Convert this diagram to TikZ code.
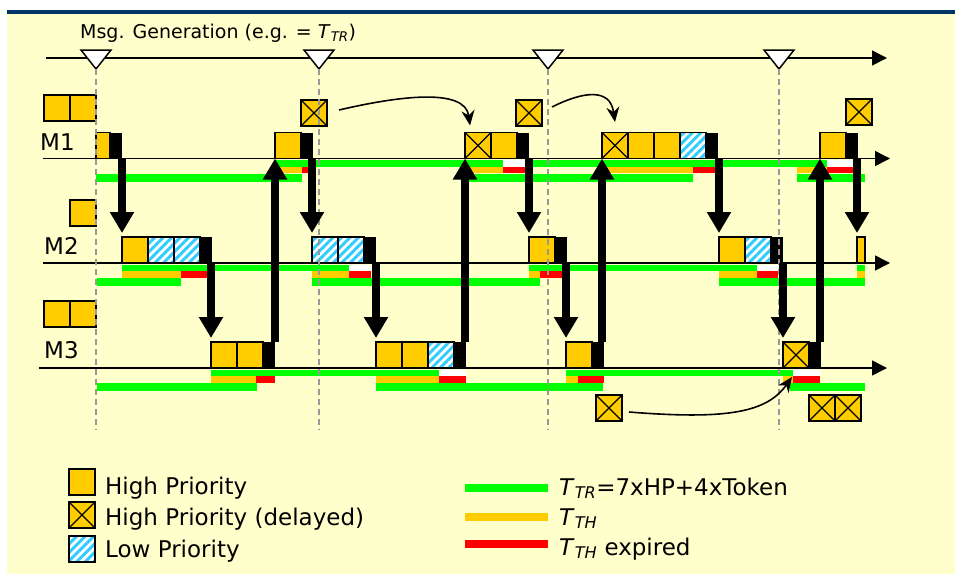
\documentclass[tikz,border=0pt]{standalone}
\usepackage{fontspec}
\setmainfont{DejaVu Sans}
\usetikzlibrary{arrows.meta,patterns.meta}

\definecolor{bgyellow}{HTML}{FFFFCC}
\definecolor{navy}{HTML}{003366}
\definecolor{prioyellow}{HTML}{FFCC00}
\definecolor{hatchblue}{HTML}{33CCFF}
\definecolor{trgreen}{HTML}{00FF00}
\definecolor{threxp}{HTML}{FF0000}
\definecolor{guidegray}{HTML}{999999}

\begin{document}
\begin{tikzpicture}[x=1pt,y=-1pt,
    pkt/.style={draw=black,line width=1.3pt,minimum width=26pt,minimum height=26pt,inner sep=0pt,outer sep=0pt,anchor=south west},
    hp/.style={pkt,fill=prioyellow},
    dl/.style={pkt,fill=prioyellow,path picture={\draw[line width=1.3pt] (path picture bounding box.north west) -- (path picture bounding box.south east) (path picture bounding box.south west) -- (path picture bounding box.north east);}},
    lp/.style={pkt,preaction={fill=white},pattern={Lines[angle=45,distance=6pt,line width=3pt]},pattern color=hatchblue},
    tok/.style={fill=black,minimum width=12pt,minimum height=26pt,inner sep=0pt,outer sep=0pt,anchor=south west},
    tokpass/.style={line width=8pt,-{Triangle[length=21pt,width=23pt]}},
    timeaxis/.style={line width=1.5pt,-{Triangle[length=15pt,width=15pt]}},
    curv/.style={line width=1.6pt,-{Stealth[length=15pt,width=13pt]}},
    guide/.style={guidegray,line width=1.5pt,dash pattern=on 6pt off 4pt},
    lbl/.style={anchor=base west,inner sep=0pt,font=\fontsize{23}{26}\selectfont}]
    \useasboundingbox (0,0) rectangle (955,579);
    \fill[white] (0,0) rectangle (955,579);
    \fill[navy] (7,10) rectangle (955,14);
    \fill[bgyellow] (7,14) rectangle (955,574);

    % Timer bars below M1.
    \fill[trgreen] (275,160) rectangle (503,166.5);
    \fill[white] (503,160) rectangle (525,166.5);
    \fill[trgreen] (525,160) rectangle (827,166.5);
    \fill[white] (827,160) rectangle (853,166.5);
    \fill[prioyellow] (275,166.5) rectangle (302,173);
    \fill[threxp] (302,166.5) rectangle (308,173);
    \fill[prioyellow] (465,166.5) rectangle (503,173);
    \fill[threxp] (503,166.5) rectangle (525,173);
    \fill[prioyellow] (602,166.5) rectangle (693,173);
    \fill[threxp] (693,166.5) rectangle (716,173);
    \fill[prioyellow] (797,166.5) rectangle (827,173);
    \fill[threxp] (827,166.5) rectangle (853,173);
    \fill[trgreen] (96,173.5) rectangle (302,181.5);
    \fill[trgreen] (465,173.5) rectangle (693,181.5);
    \fill[trgreen] (797,173.5) rectangle (865,181.5);

    % Timer bars below M2.
    \fill[trgreen] (122,264.5) rectangle (349,271);
    \fill[white] (349,264.5) rectangle (371,271);
    \fill[trgreen] (529,264.5) rectangle (757,271);
    \fill[white] (757,264.5) rectangle (778,271);
    \fill[trgreen] (857,264.5) rectangle (865,271);
    \fill[prioyellow] (122,271) rectangle (181,277.5);
    \fill[threxp] (181,271) rectangle (207,277.5);
    \fill[prioyellow] (312,271) rectangle (349,277.5);
    \fill[threxp] (349,271) rectangle (371,277.5);
    \fill[prioyellow] (529,271) rectangle (540,277.5);
    \fill[threxp] (540,271) rectangle (562,277.5);
    \fill[prioyellow] (719,271) rectangle (757,277.5);
    \fill[threxp] (757,271) rectangle (778,277.5);
    \fill[prioyellow] (857,271) rectangle (865,277.5);
    \fill[trgreen] (97,278) rectangle (181,286);
    \fill[trgreen] (312,278) rectangle (540,286);
    \fill[trgreen] (719,278) rectangle (865,286);

    % Timer bars below M3.
    \fill[trgreen] (211,369.5) rectangle (439,376);
    \fill[white] (439,369.5) rectangle (466,376);
    \fill[trgreen] (566,369.5) rectangle (793,376);
    \fill[white] (793,369.5) rectangle (820,376);
    \fill[prioyellow] (211,376) rectangle (256,382.5);
    \fill[threxp] (256,376) rectangle (275,382.5);
    \fill[prioyellow] (376,376) rectangle (439,382.5);
    \fill[threxp] (439,376) rectangle (466,382.5);
    \fill[prioyellow] (566,376) rectangle (578,382.5);
    \fill[threxp] (578,376) rectangle (604,382.5);
    \fill[prioyellow] (783,376) rectangle (793,382.5);
    \fill[threxp] (793,376) rectangle (820,382.5);
    \fill[trgreen] (97,383) rectangle (257,391);
    \fill[trgreen] (376,383) rectangle (603,391);
    \fill[trgreen] (790,383) rectangle (865,391);

    % Time axes.
    \draw[timeaxis] (46,58) -- (887,58);
    \draw[timeaxis] (43,158.5) -- (890,158.5);
    \draw[timeaxis] (43,263) -- (890,263);
    \draw[timeaxis] (39,368) -- (887,368);
    \node[lbl,font=\fontsize{19}{22}\selectfont] (msglbl) at (80,38) {Msg. Generation (e.g. = \textit{T}\textsubscript{\textit{TR}})};
    \node[lbl] (m1lbl) at (40,150) {M1};
    \node[lbl] (m2lbl) at (44,254) {M2};
    \node[lbl] (m3lbl) at (44,358) {M3};
    \foreach \gx in {96,319,548,779}
      \draw[fill=white,line width=1.5pt] (\gx-15,50) -- (\gx+15,50) -- (\gx,69) -- cycle;

    % Initial queues.
    \node[hp] (q1a) at (44,121) {};
    \node[hp] (q1b) at (q1a.south east) {};
    \node[hp] (q2a) at (70,226) {};
    \node[hp] (q3a) at (44,327) {};
    \node[hp] (q3b) at (q3a.south east) {};

    % Frames sent on M1.
    \node[hp,minimum width=14pt] (m1a1) at (96,158.5) {};
    \node[tok] (m1at) at (m1a1.south east) {};
    \node[hp] (m1b1) at (275,158.5) {};
    \node[tok] (m1bt) at (m1b1.south east) {};
    \node[dl] (m1c1) at (465,158.5) {};
    \node[hp] (m1c2) at (m1c1.south east) {};
    \node[tok] (m1ct) at (m1c2.south east) {};
    \node[dl] (m1d1) at (602,158.5) {};
    \node[hp] (m1d2) at (m1d1.south east) {};
    \node[hp] (m1d3) at (m1d2.south east) {};
    \node[lp] (m1d4) at (m1d3.south east) {};
    \node[tok] (m1dt) at (m1d4.south east) {};
    \node[hp] (m1e1) at (820,158.5) {};
    \node[tok] (m1et) at (m1e1.south east) {};
    \node[dl] (m1x1) at (301,126) {};
    \node[dl] (m1x2) at (516,126) {};
    \node[dl] (m1x3) at (846,125) {};

    % Frames sent on M2.
    \node[hp] (m2a1) at (122,263) {};
    \node[lp] (m2a2) at (m2a1.south east) {};
    \node[lp] (m2a3) at (m2a2.south east) {};
    \node[tok] (m2at) at (m2a3.south east) {};
    \node[lp] (m2b1) at (312,263) {};
    \node[lp] (m2b2) at (m2b1.south east) {};
    \node[tok] (m2bt) at (m2b2.south east) {};
    \node[hp] (m2c1) at (529,263) {};
    \node[tok] (m2ct) at (m2c1.south east) {};
    \node[hp] (m2d1) at (719,263) {};
    \node[lp] (m2d2) at (m2d1.south east) {};
    \node[tok] (m2dt) at (m2d2.south east) {};
    \node[hp,minimum width=8pt] (m2e1) at (857,263) {};

    % Frames sent on M3.
    \node[hp] (m3a1) at (211,368) {};
    \node[hp] (m3a2) at (m3a1.south east) {};
    \node[tok] (m3at) at (m3a2.south east) {};
    \node[hp] (m3b1) at (376,368) {};
    \node[hp] (m3b2) at (m3b1.south east) {};
    \node[lp] (m3b3) at (m3b2.south east) {};
    \node[tok] (m3bt) at (m3b3.south east) {};
    \node[hp] (m3c1) at (566,368) {};
    \node[tok] (m3ct) at (m3c1.south east) {};
    \node[dl] (m3d1) at (783,368) {};
    \node[tok] (m3dt) at (m3d1.south east) {};
    \node[dl] (m3x1) at (596,421) {};
    \node[dl] (m3x2) at (809,421) {};
    \node[dl] (m3x3) at (m3x2.south east) {};

    % Generation instants.
    \foreach \gx in {96,319,548,779}
      \draw[guide] (\gx,69) -- (\gx,430);

    % Token passing M1 -> M2 -> M3 -> M1.
    \draw[tokpass,shorten >=4pt] (m2a1.north west |- m1at.south) -- (m2a1.north west);
    \draw[tokpass,shorten >=4pt] (m2b1.north west |- m1bt.south) -- (m2b1.north west);
    \draw[tokpass,shorten >=4pt] (m2c1.north west |- m1ct.south) -- (m2c1.north west);
    \draw[tokpass,shorten >=4pt] (m2d1.north west |- m1dt.south) -- (m2d1.north west);
    \draw[tokpass,shorten >=4pt] (m2e1.north west |- m1et.south) -- (m2e1.north west);
    \draw[tokpass,shorten >=4pt] (m3a1.north west |- m2at.south) -- (m3a1.north west);
    \draw[tokpass,shorten >=4pt] (m3b1.north west |- m2bt.south) -- (m3b1.north west);
    \draw[tokpass,shorten >=4pt] (m3c1.north west |- m2ct.south) -- (m3c1.north west);
    \draw[tokpass,shorten >=4pt] (m3d1.north west |- m2dt.south) -- (m3d1.north west);
    \draw[tokpass] (m1b1.south west |- m3at.north) -- (m1b1.south west);
    \draw[tokpass] (m1c1.south west |- m3bt.north) -- (m1c1.south west);
    \draw[tokpass] (m1d1.south west |- m3ct.north) -- (m1d1.south west);
    \draw[tokpass] (m1e1.south west |- m3dt.north) -- (m1e1.south west);

    % Delayed frames.
    \draw[curv] ([shift={(12,-3)}]m1x1.east) .. controls +(60,-14) and +(-5,-38) .. ([shift={(5,-7)}]m1c1.north west);
    \draw[curv] ([shift={(10,-6)}]m1x2.east) .. controls +(30,-15) and +(-5,-35) .. ([shift={(13,-10.5)}]m1d1.north west);
    \draw[curv] ([shift={(7,4)}]m3x1.east) .. controls +(100,8) and +(-25,35) .. ([shift={(9,9)}]m3d1.south west);

    % Legend.
    \node[hp] (lghp) at (69,495) {};
    \node[dl] (lgdl) at (69,528) {};
    \node[lp] (lglp) at (69,562) {};
    \node[lbl] (lghptxt) at (105,494) {High Priority};
    \node[lbl] (lgdltxt) at (105,525) {High Priority (delayed)};
    \node[lbl] (lglptxt) at (105,557) {Low Priority};
    \fill[trgreen] (465,484) rectangle (548,492);
    \fill[prioyellow] (465,513) rectangle (548,521);
    \fill[threxp] (465,540) rectangle (548,547.5);
    \node[lbl] (lgtrtxt) at (559,495) {\textit{T}\textsubscript{\textit{TR}}=7xHP+4xToken};
    \node[lbl] (lgthtxt) at (559,525) {\textit{T}\textsubscript{\textit{TH}}};
    \node[lbl] (lgextxt) at (559,555) {\textit{T}\textsubscript{\textit{TH}} expired};
\end{tikzpicture}
\end{document}
